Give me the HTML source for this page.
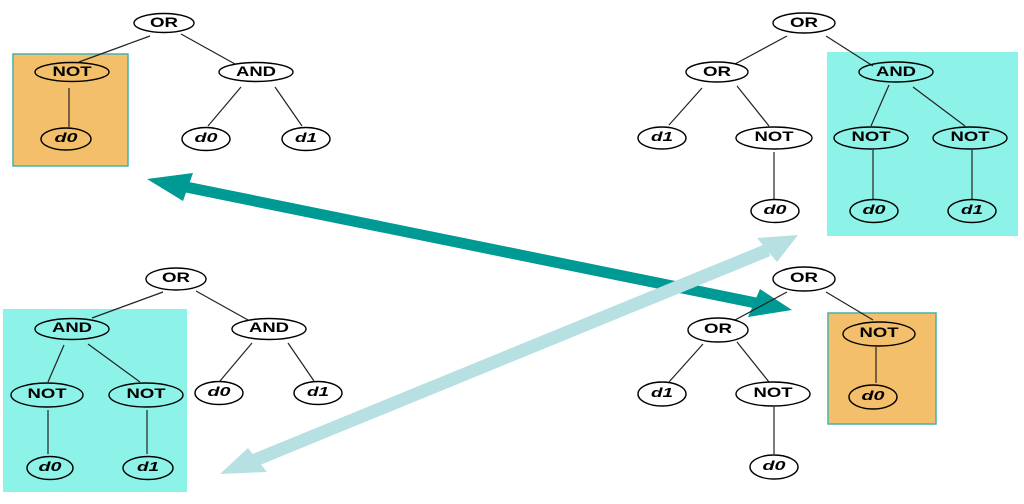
<!DOCTYPE html>
<html><head><meta charset="utf-8"><style>
html,body{margin:0;padding:0;background:#fff;}
svg{display:block;}
.op{font-family:"Liberation Sans",sans-serif;font-weight:bold;font-size:14px;fill:#000;}
.dv{font-family:"Liberation Sans",sans-serif;font-weight:bold;font-style:italic;font-size:13px;fill:#000;}
.e{stroke:#222;stroke-width:1.2;fill:none;}
.n{stroke:#000;stroke-width:1.4;fill:#fff;}
.nt{stroke:#000;stroke-width:1.4;fill:none;}
</style></head><body>
<svg width="1024" height="504" viewBox="0 0 1024 504" xmlns="http://www.w3.org/2000/svg">
<rect width="1024" height="504" fill="#fff"/>

<!-- dark arrow -->
<line x1="186" y1="187" x2="756" y2="303" stroke="#009a95" stroke-width="11"/>
<polygon points="147,179 193,173 183,201" fill="#009a95"/>
<polygon points="792,310 760,289 748,317" fill="#009a95"/>
<!-- light arrow -->
<line x1="255" y1="460" x2="768" y2="250" stroke="#b7e0e3" stroke-width="13"/>
<polygon points="220,474 248,448 267,472" fill="#b7e0e3"/>
<polygon points="798,235 757,238 777,262" fill="#b7e0e3"/>

<!-- boxes -->
<rect x="13" y="54" width="115" height="112" fill="#f3bf6b" stroke="#45b3ab" stroke-width="1.5"/>
<rect x="827" y="52" width="191" height="184" fill="#8df2e7"/>
<rect x="3" y="309" width="184" height="183" fill="#8df2e7"/>
<rect x="828" y="313" width="108" height="111" fill="#f3bf6b" stroke="#45b3ab" stroke-width="1.5"/>

<!-- edges TL -->
<line class="e" x1="150" y1="36" x2="79" y2="62"/>
<line class="e" x1="181" y1="34" x2="235" y2="64"/>
<line class="e" x1="69" y1="88" x2="69" y2="127"/>
<line class="e" x1="241" y1="87" x2="208" y2="126"/>
<line class="e" x1="275" y1="87" x2="302" y2="126"/>
<!-- edges TR -->
<line class="e" x1="787" y1="36" x2="735" y2="64"/>
<line class="e" x1="826" y1="36" x2="873" y2="66"/>
<line class="e" x1="702" y1="88" x2="669" y2="125"/>
<line class="e" x1="737" y1="86" x2="769" y2="126"/>
<line class="e" x1="774" y1="152" x2="774" y2="199"/>
<line class="e" x1="889" y1="85" x2="871" y2="126"/>
<line class="e" x1="913" y1="87" x2="965" y2="126"/>
<line class="e" x1="873" y1="150" x2="873" y2="199"/>
<line class="e" x1="972" y1="150" x2="972" y2="199"/>
<!-- edges BL -->
<line class="e" x1="163" y1="292" x2="92" y2="318"/>
<line class="e" x1="196" y1="291" x2="248" y2="320"/>
<line class="e" x1="64" y1="345" x2="48" y2="382"/>
<line class="e" x1="88" y1="344" x2="140" y2="382"/>
<line class="e" x1="48" y1="410" x2="48" y2="454"/>
<line class="e" x1="147" y1="410" x2="147" y2="454"/>
<line class="e" x1="252" y1="343" x2="220" y2="381"/>
<line class="e" x1="288" y1="343" x2="314" y2="381"/>
<!-- edges BR -->
<line class="e" x1="787" y1="292" x2="735" y2="320"/>
<line class="e" x1="826" y1="292" x2="873" y2="320"/>
<line class="e" x1="703" y1="344" x2="669" y2="382"/>
<line class="e" x1="737" y1="342" x2="769" y2="382"/>
<line class="e" x1="774" y1="407" x2="774" y2="454"/>
<line class="e" x1="876" y1="347" x2="876" y2="383"/>

<!-- nodes TL -->
<ellipse class="n" cx="164" cy="23" rx="30" ry="9.5"/>
<text class="op" x="164" y="27" text-anchor="middle" textLength="28" lengthAdjust="spacingAndGlyphs">OR</text>
<ellipse class="nt" cx="72" cy="72" rx="37" ry="9.5"/>
<text class="op" x="72" y="76" text-anchor="middle" textLength="39" lengthAdjust="spacingAndGlyphs">NOT</text>
<ellipse class="nt" cx="66" cy="139" rx="25" ry="11"/>
<text class="dv" x="66" y="142" text-anchor="middle" textLength="23" lengthAdjust="spacingAndGlyphs">d0</text>
<ellipse class="n" cx="256" cy="72" rx="37" ry="9.5"/>
<text class="op" x="256" y="76" text-anchor="middle" textLength="40" lengthAdjust="spacingAndGlyphs">AND</text>
<ellipse class="n" cx="206" cy="139" rx="24" ry="11.5"/>
<text class="dv" x="206" y="142" text-anchor="middle" textLength="23" lengthAdjust="spacingAndGlyphs">d0</text>
<ellipse class="n" cx="306" cy="139" rx="24" ry="11.5"/>
<text class="dv" x="306" y="142" text-anchor="middle" textLength="22" lengthAdjust="spacingAndGlyphs">d1</text>

<!-- nodes TR -->
<ellipse class="n" cx="804" cy="23" rx="31" ry="10"/>
<text class="op" x="804" y="27" text-anchor="middle" textLength="28" lengthAdjust="spacingAndGlyphs">OR</text>
<ellipse class="n" cx="717" cy="72" rx="31" ry="10"/>
<text class="op" x="717" y="76" text-anchor="middle" textLength="28" lengthAdjust="spacingAndGlyphs">OR</text>
<ellipse class="nt" cx="896" cy="72" rx="37" ry="10"/>
<text class="op" x="896" y="76" text-anchor="middle" textLength="40" lengthAdjust="spacingAndGlyphs">AND</text>
<ellipse class="n" cx="662" cy="138" rx="24" ry="11"/>
<text class="dv" x="662" y="141" text-anchor="middle" textLength="22" lengthAdjust="spacingAndGlyphs">d1</text>
<ellipse class="n" cx="774" cy="138" rx="38" ry="11"/>
<text class="op" x="774" y="141" text-anchor="middle" textLength="39" lengthAdjust="spacingAndGlyphs">NOT</text>
<ellipse class="n" cx="775" cy="211" rx="24" ry="11.5"/>
<text class="dv" x="775" y="214" text-anchor="middle" textLength="23" lengthAdjust="spacingAndGlyphs">d0</text>
<ellipse class="nt" cx="871" cy="138" rx="37" ry="11"/>
<text class="op" x="871" y="141" text-anchor="middle" textLength="39" lengthAdjust="spacingAndGlyphs">NOT</text>
<ellipse class="nt" cx="970" cy="138" rx="37" ry="11"/>
<text class="op" x="970" y="141" text-anchor="middle" textLength="39" lengthAdjust="spacingAndGlyphs">NOT</text>
<ellipse class="nt" cx="874" cy="211" rx="24" ry="11.5"/>
<text class="dv" x="874" y="214" text-anchor="middle" textLength="23" lengthAdjust="spacingAndGlyphs">d0</text>
<ellipse class="nt" cx="972" cy="211" rx="24" ry="11.5"/>
<text class="dv" x="972" y="214" text-anchor="middle" textLength="22" lengthAdjust="spacingAndGlyphs">d1</text>

<!-- nodes BL -->
<ellipse class="n" cx="176" cy="279" rx="30" ry="11"/>
<text class="op" x="176" y="282" text-anchor="middle" textLength="28" lengthAdjust="spacingAndGlyphs">OR</text>
<ellipse class="nt" cx="72" cy="329" rx="37" ry="10.5"/>
<text class="op" x="72" y="332" text-anchor="middle" textLength="40" lengthAdjust="spacingAndGlyphs">AND</text>
<ellipse class="n" cx="269" cy="329" rx="37" ry="10.5"/>
<text class="op" x="269" y="332" text-anchor="middle" textLength="40" lengthAdjust="spacingAndGlyphs">AND</text>
<ellipse class="nt" cx="47" cy="395" rx="36" ry="12"/>
<text class="op" x="47" y="398" text-anchor="middle" textLength="39" lengthAdjust="spacingAndGlyphs">NOT</text>
<ellipse class="nt" cx="146" cy="395" rx="37" ry="12"/>
<text class="op" x="146" y="398" text-anchor="middle" textLength="39" lengthAdjust="spacingAndGlyphs">NOT</text>
<ellipse class="nt" cx="50" cy="468" rx="23" ry="11.5"/>
<text class="dv" x="50" y="471" text-anchor="middle" textLength="23" lengthAdjust="spacingAndGlyphs">d0</text>
<ellipse class="nt" cx="148" cy="468" rx="25" ry="11.5"/>
<text class="dv" x="148" y="471" text-anchor="middle" textLength="22" lengthAdjust="spacingAndGlyphs">d1</text>
<ellipse class="n" cx="219" cy="393" rx="24" ry="11.5"/>
<text class="dv" x="219" y="396" text-anchor="middle" textLength="23" lengthAdjust="spacingAndGlyphs">d0</text>
<ellipse class="n" cx="318" cy="393" rx="24" ry="11.5"/>
<text class="dv" x="318" y="396" text-anchor="middle" textLength="22" lengthAdjust="spacingAndGlyphs">d1</text>

<!-- nodes BR -->
<ellipse class="n" cx="804" cy="279" rx="31" ry="12"/>
<text class="op" x="804" y="282" text-anchor="middle" textLength="28" lengthAdjust="spacingAndGlyphs">OR</text>
<ellipse class="nt" cx="879" cy="334" rx="36" ry="12"/>
<text class="op" x="879" y="337" text-anchor="middle" textLength="39" lengthAdjust="spacingAndGlyphs">NOT</text>
<ellipse class="nt" cx="873" cy="397" rx="24" ry="12"/>
<text class="dv" x="873" y="400" text-anchor="middle" textLength="23" lengthAdjust="spacingAndGlyphs">d0</text>
<ellipse class="n" cx="718" cy="330" rx="30" ry="12"/>
<text class="op" x="718" y="333" text-anchor="middle" textLength="28" lengthAdjust="spacingAndGlyphs">OR</text>
<ellipse class="n" cx="662" cy="394" rx="24" ry="12"/>
<text class="dv" x="662" y="397" text-anchor="middle" textLength="22" lengthAdjust="spacingAndGlyphs">d1</text>
<ellipse class="n" cx="773" cy="394" rx="37" ry="12"/>
<text class="op" x="773" y="397" text-anchor="middle" textLength="39" lengthAdjust="spacingAndGlyphs">NOT</text>
<ellipse class="n" cx="774" cy="467" rx="24" ry="12"/>
<text class="dv" x="774" y="470" text-anchor="middle" textLength="23" lengthAdjust="spacingAndGlyphs">d0</text>
</svg>
</body></html>
